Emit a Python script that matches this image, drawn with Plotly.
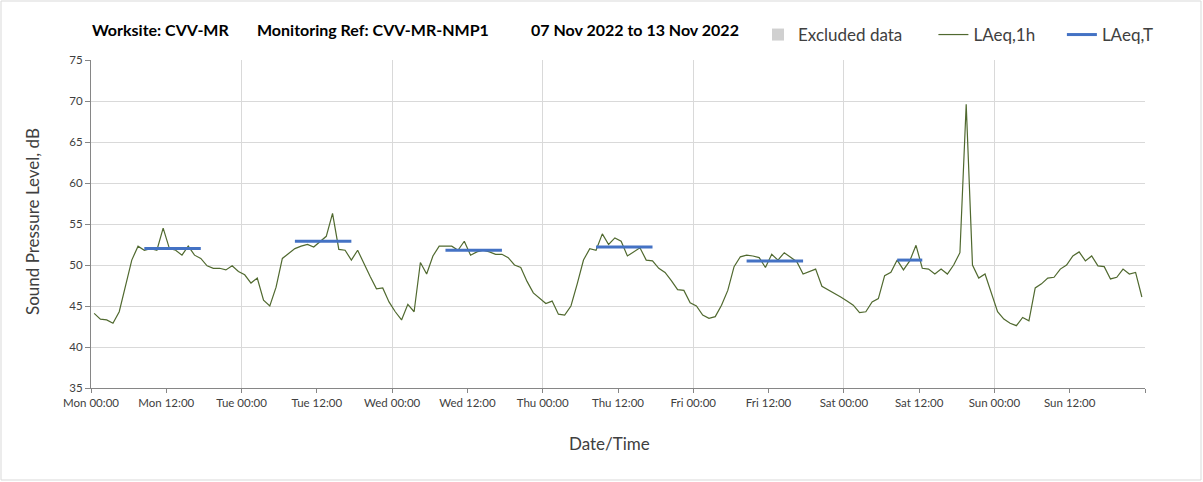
import plotly.graph_objects as go

# ---------------- data ----------------
# hourly LAeq,1h values, Mon 00:00 .. Sun 23:00 (168 hours)
laeq_1h = [
    44.1, 43.4, 43.3, 42.9, 44.3, 47.5, 50.6, 52.3, 51.8, 52.0, 51.8, 54.5,
    52.0, 51.8, 51.2, 52.3, 51.2, 50.8, 49.9, 49.6, 49.6, 49.4, 49.9, 49.2,
    48.8, 47.8, 48.4, 45.7, 45.0, 47.3, 50.8, 51.4, 52.0, 52.3, 52.5, 52.2,
    52.9, 53.5, 56.3, 51.9, 51.8, 50.6, 51.8, 50.1, 48.6, 47.1, 47.2, 45.5,
    44.3, 43.3, 45.2, 44.3, 50.3, 48.9, 51.1, 52.3, 52.3, 52.3, 51.8, 52.9,
    51.2, 51.6, 51.8, 51.6, 51.3, 51.3, 50.9, 50.0, 49.7, 48.0, 46.6, 46.0,
    45.3, 45.6, 44.0, 43.9, 45.0, 47.7, 50.6, 52.0, 51.8, 53.8, 52.5, 53.3,
    52.9, 51.1, 51.6, 52.1, 50.6, 50.5, 49.6, 49.1, 48.1, 47.0, 46.9, 45.4,
    45.0, 43.9, 43.5, 43.7, 45.1, 46.9, 49.8, 51.0, 51.2, 51.1, 50.9, 49.7,
    51.3, 50.6, 51.5, 51.0, 50.4, 48.9, 49.2, 49.5, 47.4, 47.0, 46.6, 46.1,
    45.6, 45.1, 44.2, 44.3, 45.5, 45.9, 48.7, 49.1, 50.6, 49.4, 50.5, 52.4,
    49.6, 49.5, 48.9, 49.5, 48.9, 50.0, 51.5, 69.6, 50.0, 48.4, 48.9, 46.7,
    44.3, 43.4, 42.9, 42.6, 43.6, 43.2, 47.2, 47.7, 48.4, 48.5, 49.5, 50.0,
    51.1, 51.6, 50.5, 51.1, 49.9, 49.8, 48.3, 48.5, 49.5, 48.9, 49.1, 46.1,
]
hour_index = list(range(len(laeq_1h)))

# LAeq,T daytime periods (hour index start/end, inclusive) and values
laeq_t_start = [8, 32, 56, 80, 104, 128]
laeq_t_end = [17, 41, 65, 89, 113, 132]
laeq_t_value = [52.0, 52.9, 51.8, 52.2, 50.5, 50.6]

tick_hours = [0, 12, 24, 36, 48, 60, 72, 84, 96, 108, 120, 132, 144, 156, 168]
tick_labels = ["Mon 00:00", "Mon 12:00", "Tue 00:00", "Tue 12:00", "Wed 00:00",
               "Wed 12:00", "Thu 00:00", "Thu 12:00", "Fri 00:00", "Fri 12:00",
               "Sat 00:00", "Sat 12:00", "Sun 00:00", "Sun 12:00", ""]
day_lines = [0, 24, 48, 72, 96, 120, 144, 168]

title_parts = ["Worksite: CVV-MR", "Monitoring Ref: CVV-MR-NMP1", "07 Nov 2022 to 13 Nov 2022"]
legend_names = ["Excluded data", "LAeq,1h", "LAeq,T"]

# ---------------- figure ----------------
W, H = 1203, 482
L, R, T, B = 91, 58, 60, 94
pw, ph = W - L - R, H - T - B
FONT = "Lato, Carlito, 'Open Sans', sans-serif"
NB = "\u00a0"

x_1h = [h + 0.5 for h in hour_index]

xt, yt = [], []
for s, e, v in zip(laeq_t_start, laeq_t_end, laeq_t_value):
    for h in range(s, e + 1):
        xt.append(h + 0.5)
        yt.append(v)
    xt.append(None)
    yt.append(None)

fig = go.Figure()
fig.add_trace(go.Bar(x=[None], y=[None], name=legend_names[0] + NB * 6,
                     marker=dict(color="#d0d0d0", line=dict(width=0))))
fig.add_trace(go.Scatter(x=x_1h, y=laeq_1h, mode="lines", name=legend_names[1] + NB * 5,
                         line=dict(color="#50692f", width=1.2)))
fig.add_trace(go.Scatter(x=xt, y=yt, mode="lines", name=legend_names[2],
                         line=dict(color="#4472c4", width=3), connectgaps=False))


def px_x(p):
    return (p - L) / pw


def px_y(p):
    return (H - B - p) / ph


annotations = []
title_pos = [(90, "left"), (255, "left"), (741, "right")]
for txt, (px, anc) in zip(title_parts, title_pos):
    annotations.append(dict(text="<b>" + txt + "</b>", x=px_x(px), y=px_y(30),
                            xref="paper", yref="paper", xanchor=anc, yanchor="middle",
                            showarrow=False, font=dict(family=FONT, size=16, color="#000000")))
annotations.append(dict(text="Date/Time", x=px_x(609), y=px_y(443), xref="paper", yref="paper",
                        xanchor="center", yanchor="middle", showarrow=False,
                        font=dict(family=FONT, size=17, color="#404040")))
annotations.append(dict(text="Sound Pressure Level, dB", x=px_x(32), y=px_y(222), xref="paper",
                        yref="paper", xanchor="center", yanchor="middle", textangle=-90,
                        showarrow=False, font=dict(family=FONT, size=17, color="#404040")))

shapes = [dict(type="rect", xref="paper", yref="paper",
               x0=px_x(1), x1=px_x(W - 2), y0=px_y(H - 2), y1=px_y(1),
               line=dict(color="#d9d9d9", width=1), layer="below")]

fig.update_layout(
    width=W, height=H,
    margin=dict(l=L, r=R, t=T, b=B, autoexpand=False),
    paper_bgcolor="white", plot_bgcolor="white",
    font=dict(family=FONT, size=11, color="#595959"),
    showlegend=True,
    legend=dict(orientation="h", x=px_x(758), y=px_y(35), xanchor="left", yanchor="middle",
                font=dict(family=FONT, size=17, color="#404040"), traceorder="normal",
                bgcolor="rgba(0,0,0,0)", itemwidth=30),
    annotations=annotations,
    shapes=shapes,
    bargap=0,
)
fig.update_xaxes(range=[0, 168], tickmode="array", tickvals=tick_hours, ticktext=tick_labels,
                 showgrid=False, zeroline=False, showline=True, linecolor="#868686", linewidth=1,
                 ticks="outside", ticklen=4, tickcolor="#868686",
                 tickfont=dict(family=FONT, size=11.5, color="#404040"),
                 minor=dict(tickmode="array", tickvals=day_lines, showgrid=True,
                            gridcolor="#d9d9d9", gridwidth=1, ticks=""),
                 mirror=False)
fig.update_yaxes(range=[35, 75], tickmode="array", tickvals=list(range(35, 80, 5)),
                 showgrid=True, gridcolor="#d9d9d9", gridwidth=1, zeroline=False,
                 showline=True, linecolor="#868686", linewidth=1,
                 ticks="outside", ticklen=5, tickcolor="#868686",
                 tickfont=dict(family=FONT, size=11.5, color="#404040"))

fig.write_html("out.html", config={"displayModeBar": False},
               post_script="document.body.style.margin='0';")
